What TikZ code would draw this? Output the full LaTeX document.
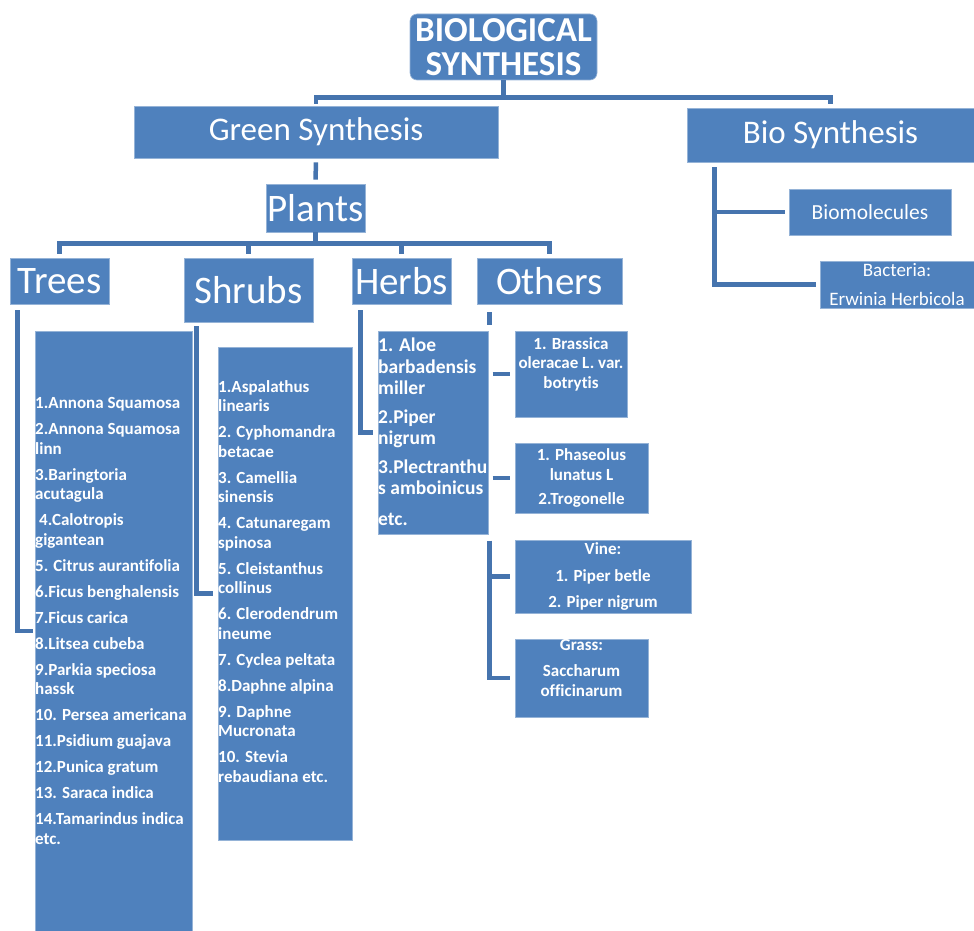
\documentclass[tikz,border=0pt]{standalone}
\usepackage{fontspec}
\setmainfont{Carlito}[Ligatures=NoCommon]
\usetikzlibrary{positioning}
\definecolor{boxblue}{HTML}{4F81BD}
\definecolor{linkblue}{HTML}{4674AE}
\begin{document}
\begin{tikzpicture}[x=1pt,y=-1pt,
	box/.style={draw=white!40!boxblue, line width=0.6pt, fill=boxblue, text=white, inner sep=0pt, align=center},
	link/.style={draw=linkblue, line width=4.5pt},
	head/.style={font=\fontsize{39}{42}\selectfont},
	subhead/.style={font=\fontsize{33}{36}\selectfont},
	listtext/.style={text=white, inner sep=0pt, align=left, font=\bfseries\fontsize{17}{19.5}\selectfont},
	smalltext/.style={font=\bfseries\fontsize{17}{19.5}\selectfont}]
	\useasboundingbox (0,0) rectangle (974,931);
	
	%top levels
	\node[box, rounded corners=7pt, minimum width=187, minimum height=66, font=\bfseries\fontsize{35}{34}\selectfont] (root) at (503.5,47) {BIOLOGICAL\\SYNTHESIS};
	\node[box, subhead, minimum width=364, minimum height=52] (green) at (316,132) {Green Synthesis};
	\node[box, subhead, minimum width=287, minimum height=54] (bio) at (830.5,135) {Bio Synthesis};
	\node[box, head, minimum width=99, minimum height=48] (plants) at (315.5,208) {Plants};
	
	%plant groups
	\node[box, head, minimum width=99, minimum height=46] (trees) at (59.5,281) {Trees};
	\node[box, head, minimum width=129, minimum height=64] (shrubs) at (248.5,290) {Shrubs};
	\node[box, head, minimum width=99, minimum height=46] (herbs) at (401.5,281) {Herbs};
	\node[box, head, minimum width=145, minimum height=46] (others) at (549.5,281) {Others};
	
	%lists
	\node[box, minimum width=157, minimum height=600] (treeslist) at (113.5,631) {};
	\node[listtext, anchor=north west] (treestext) at (35,397.5) {1.Annona Squamosa\\[6.5pt]
		2.Annona Squamosa\\linn\\[6.5pt]
		3.Baringtoria\\acutagula\\[6.5pt]
		\hspace*{4pt}4.Calotropis\\gigantean\\[6.5pt]
		5. Citrus aurantifolia\\[6.5pt]
		6.Ficus benghalensis\\[6.5pt]
		7.Ficus carica\\[6.5pt]
		8.Litsea cubeba\\[6.5pt]
		9.Parkia speciosa\\hassk\\[6.5pt]
		10. Persea americana\\[6.5pt]
		11.Psidium guajava\\[6.5pt]
		12.Punica gratum\\[6.5pt]
		13. Saraca indica\\[6.5pt]
		14.Tamarindus indica\\etc.};
	
	\node[box, minimum width=134, minimum height=493] (shrubslist) at (285,593.5) {};
	\node[listtext, anchor=north west] (shrubstext) at (218,380) {1.Aspalathus\\linearis\\[6.5pt]
		2. Cyphomandra\\betacae\\[6.5pt]
		3. Camellia\\sinensis\\[6.5pt]
		4. Catunaregam\\spinosa\\[6.5pt]
		5. Cleistanthus\\collinus\\[6.5pt]
		6. Clerodendrum\\ineume\\[6.5pt]
		7. Cyclea peltata\\[6.5pt]
		8.Daphne alpina\\[6.5pt]
		9. Daphne\\Mucronata\\[6.5pt]
		10. Stevia\\rebaudiana etc.};
	
	\node[box, minimum width=110, minimum height=203] (herbslist) at (433,432.5) {};
	\node[listtext, anchor=north west, font=\bfseries\fontsize{19.5}{21.5}\selectfont] (herbstext) at (378,338) {1. Aloe\\barbadensis\\miller\\[7pt]
		2.Piper\\nigrum\\[7pt]
		3.Plectranthu\\s amboinicus\\[9pt]
		etc.};
	
	%others
	\node[box, minimum width=112, minimum height=86] (brassica) at (571,374) {};
	\node[listtext, align=center, below=6.5pt of brassica.north] (brassicatext) {1. Brassica\\oleracae L. var.\\botrytis};
	\node[box, smalltext, minimum width=133, minimum height=70] (phaseolus) at (581.5,478) {1. Phaseolus\\lunatus L\\[5pt]2.Trogonelle};
	\node[box, font=\bfseries\fontsize{17}{26.5}\selectfont, minimum width=176, minimum height=73] (vine) at (603,576.5) {Vine:\\1. Piper betle\\2. Piper nigrum};
	\node[box, minimum width=133, minimum height=78] (grass) at (581.5,678) {};
	\node[listtext, align=center, below=0.5pt of grass.north] (grasstext) {Grass:\\[6.5pt]Saccharum\\officinarum};
	
	%bio side
	\node[box, font=\fontsize{21.5}{24}\selectfont, minimum width=162, minimum height=46] (biomol) at (870,212) {Biomolecules};
	\node[box, font=\fontsize{19}{29}\selectfont, minimum width=154, minimum height=47] (bacteria) at (897,284.5) {Bacteria:\\Erwinia Herbicola};
	
	%connectors
	\draw[link] (root.south) -- ++(0,17) coordinate (rbar);
	\draw[link, shorten >=2pt] (rbar) -| (green.north);
	\draw[link, shorten >=4pt] (rbar) -| (bio.north);
	\draw[link, shorten <=4pt, shorten >=4pt] (green.south) -- (plants.north);
	\draw[link] (plants.south) -- ++(0,11) coordinate (pbar);
	\foreach \c in {trees, shrubs, herbs, others}{
		\draw[link, shorten >=4pt] (pbar) -| (\c.north);
	}
	\draw[link] ([xshift=8pt,yshift=-6pt]trees.south west) |- ([xshift=-2pt]treeslist.west);
	\draw[link] ([xshift=13pt,yshift=-4pt]shrubs.south west) |- ([xshift=-5pt]shrubslist.west);
	\draw[link] ([xshift=9pt,yshift=-6pt]herbs.south west) |- ([xshift=-5pt]herbslist.west);
	\draw[link] ([xshift=13pt,yshift=-8pt]others.south west) -- ++(0,13);
	\draw[link] ([xshift=-22pt]brassica.west) -- ([xshift=-5pt]brassica.west);
	\draw[link] ([xshift=-22pt]phaseolus.west) -- ([xshift=-5pt]phaseolus.west);
	\draw[link] ([xshift=-25pt,yshift=36pt]vine.west) |- ([xshift=-5pt]grass.west);
	\draw[link] ([xshift=-25pt]vine.west) -- ([xshift=-5pt]vine.west);
	\coordinate (biostem) at ([xshift=28pt,yshift=-5pt]bio.south west);
	\draw[link] (biostem) |- ([xshift=-4pt]bacteria.west);
	\draw[link] (biostem |- biomol.west) -- ([xshift=-4pt]biomol.west);
\end{tikzpicture}
\end{document}
